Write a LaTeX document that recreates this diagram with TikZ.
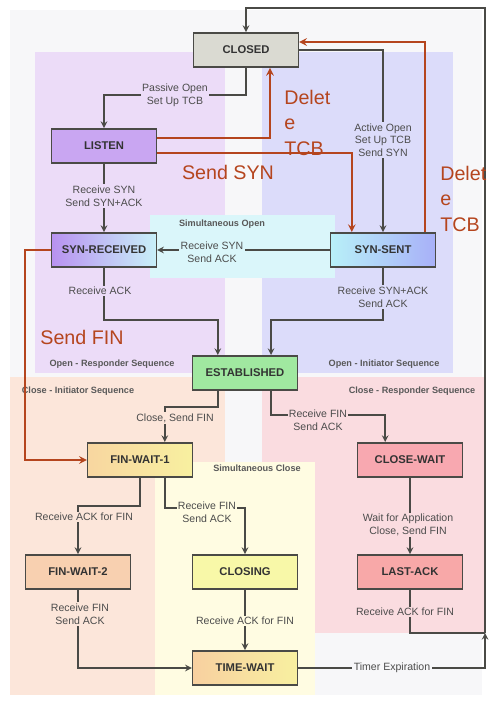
\documentclass[tikz,border=0pt]{standalone}
\usepackage{fontspec}
\setmainfont{Liberation Sans}
\usetikzlibrary{arrows,calc}
\definecolor{rust}{HTML}{B5451E}
\definecolor{linegrey}{HTML}{4A4A46}
\definecolor{bgpurple}{HTML}{ECDCF8}
\definecolor{bgblue}{HTML}{DCDCFA}
\definecolor{bgcyan}{HTML}{DAF6FA}
\definecolor{bgpeach}{HTML}{FCE6DA}
\definecolor{bgpink}{HTML}{FADCE0}
\definecolor{bgyellow}{HTML}{FFFCE2}
\definecolor{bgouter}{HTML}{F7F7F9}
\tikzset{
	statebox/.style={draw=linegrey,line width=1.1pt,minimum width=2.62cm,minimum height=0.86cm,
			font=\fontsize{8}{9}\selectfont\bfseries,text=black!80},
	conn/.style={draw=linegrey,line width=1.1pt,->,>=stealth},
	lbl/.style={font=\fontsize{7.5}{9}\selectfont,text=black!70,align=center,inner sep=1pt},
	zone/.style={font=\fontsize{6.5}{7.5}\selectfont\bfseries,text=black!65},
	note/.style={draw=rust,line width=1.4pt,->,>=stealth},
	notetext/.style={text=rust,font=\fontsize{14}{18}\selectfont,align=left}
}
\begin{document}
\begin{tikzpicture}[x=0.025cm,y=-0.025cm]
	\useasboundingbox (0,0) rectangle (491,701);
	\fill[white] (0,0) rectangle (491,701);
	\fill[bgouter] (10,10) rectangle (482,695);
	\fill[bgpurple] (35,52) rectangle (225,373);
	\fill[bgblue] (262,52) rectangle (453,373);
	\fill[bgcyan] (150,215) rectangle (335,278);
	\fill[bgpeach] (10,377) rectangle (225,695);
	\fill[bgpink] (262,377) rectangle (485,633);
	\fill[bgyellow] (155,462) rectangle (315,695);

	\node[statebox,fill={rgb,255:red,218;green,218;blue,210}] (closed) at (246,50) {CLOSED};
	\node[statebox,fill={rgb,255:red,201;green,166;blue,242}] (listen) at (104,146) {LISTEN};
	\node[statebox,left color={rgb,255:red,184;green,146;blue,240},right color={rgb,255:red,200;green,240;blue,248}] (synrcvd) at (104,250) {SYN-RECEIVED};
	\node[statebox,left color={rgb,255:red,184;green,240;blue,248},right color={rgb,255:red,168;green,176;blue,248}] (synsent) at (383,250) {SYN-SENT};
	\node[statebox,fill={rgb,255:red,160;green,232;blue,160}] (estab) at (245,373) {ESTABLISHED};
	\node[statebox,left color={rgb,255:red,248;green,214;blue,160},right color={rgb,255:red,248;green,240;blue,160}] (finwait1) at (140,460) {FIN-WAIT-1};
	\node[statebox,fill={rgb,255:red,248;green,168;blue,176}] (closewait) at (410,460) {CLOSE-WAIT};
	\node[statebox,fill={rgb,255:red,248;green,208;blue,176}] (finwait2) at (78,572) {FIN-WAIT-2};
	\node[statebox,fill={rgb,255:red,248;green,248;blue,168}] (closing) at (245,572) {CLOSING};
	\node[statebox,fill={rgb,255:red,248;green,168;blue,168}] (lastack) at (410,572) {LAST-ACK};
	\node[statebox,left color={rgb,255:red,248;green,208;blue,160},right color={rgb,255:red,248;green,240;blue,160}] (timewait) at (245,668) {TIME-WAIT};

	\node[zone] (simopen) at (222,224) {Simultaneous Open};
	\node[zone] (openresp) at (112,364) {Open - Responder Sequence};
	\node[zone] (openinit) at (384,364) {Open - Initiator Sequence};
	\node[zone] (closeinit) at (78,391) {Close - Initiator Sequence};
	\node[zone] (closeresp) at (412,391) {Close - Responder Sequence};
	\node[zone] (simclose) at (257,468) {Simultaneous Close};

	\draw[conn] (closed.south) -- ++(0,27) -| (listen.north);
	\node[lbl,fill=bgpurple] (passive) at (175,95) {Passive Open\\Set Up TCB};
	\draw[conn] (closed.east) -| (synsent.north);
	\node[lbl,fill=bgblue] (active) at (383,140) {Active Open\\Set Up TCB\\Send SYN};
	\draw[conn] (listen) -- (synrcvd);
	\node[lbl,fill=bgpurple] (rcvsyn) at (104,196) {Receive SYN\\Send SYN+ACK};
	\draw[conn] (synsent) -- (synrcvd);
	\node[lbl,fill=bgcyan] (simsyn) at (212,252) {Receive SYN\\Send ACK};
	\draw[conn] (synrcvd.south) -- ++(0,52) -| ([xshift=-0.68cm]estab.north);
	\node[lbl,fill=bgpurple] (rcvack) at (100,291) {Receive ACK};
	\draw[conn] (synsent.south) -- ++(0,52) -| ([xshift=0.65cm]estab.north);
	\node[lbl,fill=bgblue] (rcvsynack) at (383,297) {Receive SYN+ACK\\Send ACK};

	\draw[conn] ([xshift=-0.68cm]estab.south) -- ++(0,16) -| ([xshift=0.62cm]finwait1.north);
	\node[lbl,fill=bgpeach] (closefin) at (175,418) {Close, Send FIN};
	\draw[conn] ([xshift=0.65cm]estab.south) -- ++(0,24) -| ([xshift=-0.62cm]closewait.north);
	\node[lbl,fill=bgpink] (rcvfin1) at (318,420) {Receive FIN\\Send ACK};
	\draw[conn] (finwait1.south) -- ++(0,28) -| (finwait2.north);
	\node[lbl,fill=bgpeach] (ackfin1) at (84,517) {Receive ACK for FIN};
	\draw[conn] ([xshift=0.62cm]finwait1.south) -- ++(0,30) -| (closing.north);
	\node[lbl,fill=bgyellow] (rcvfin2) at (207,512) {Receive FIN\\Send ACK};
	\draw[conn] (closewait) -- (lastack);
	\node[lbl,fill=bgpink] (waitapp) at (408,525) {Wait for Application\\Close, Send FIN};
	\draw[conn] (finwait2.south) |- (timewait.west);
	\node[lbl,fill=bgpeach] (rcvfin3) at (80,614) {Receive FIN\\Send ACK};
	\draw[conn] (closing) -- (timewait);
	\node[lbl,fill=bgyellow] (ackfin2) at (245,621) {Receive ACK for FIN};

	\coordinate (join) at (485,633);
	\coordinate (topright) at (485,8);
	\draw[draw=linegrey,line width=1.1pt] (lastack.south) |- (join);
	\node[lbl,fill=bgpink] (ackfin3) at (405,612) {Receive ACK for FIN};
	\draw[conn] (timewait.east) -| (join);
	\node[lbl,fill=bgouter] (timer) at (392,668) {Timer Expiration};
	\draw[conn] (join) -- (topright) -| (closed.north);

	\draw[note] ([yshift=0.2cm]listen.east) -| ([xshift=0.6cm]closed.south);
	\draw[note] ([yshift=-0.18cm]listen.east) -| ([xshift=-0.78cm]synsent.north);
	\draw[note] ([xshift=1.05cm]synsent.north) |- ([yshift=0.2cm]closed.east);
	\coordinate (finbend) at (25,250);
	\draw[note] (synrcvd.west) -- (finbend) |- (finwait1.west);

	\node[notetext,anchor=north west,inner sep=0pt] (deltcb1) at (284,90) {Delet\\e\\TCB};
	\node[notetext,anchor=north west,inner sep=0pt] (deltcb2) at (440,166) {Delet\\e\\TCB};
	\node[notetext] (sendsyn) at (228,172) {Send SYN};
	\node[notetext] (sendfin) at (82,337) {Send FIN};
\end{tikzpicture}
\end{document}
